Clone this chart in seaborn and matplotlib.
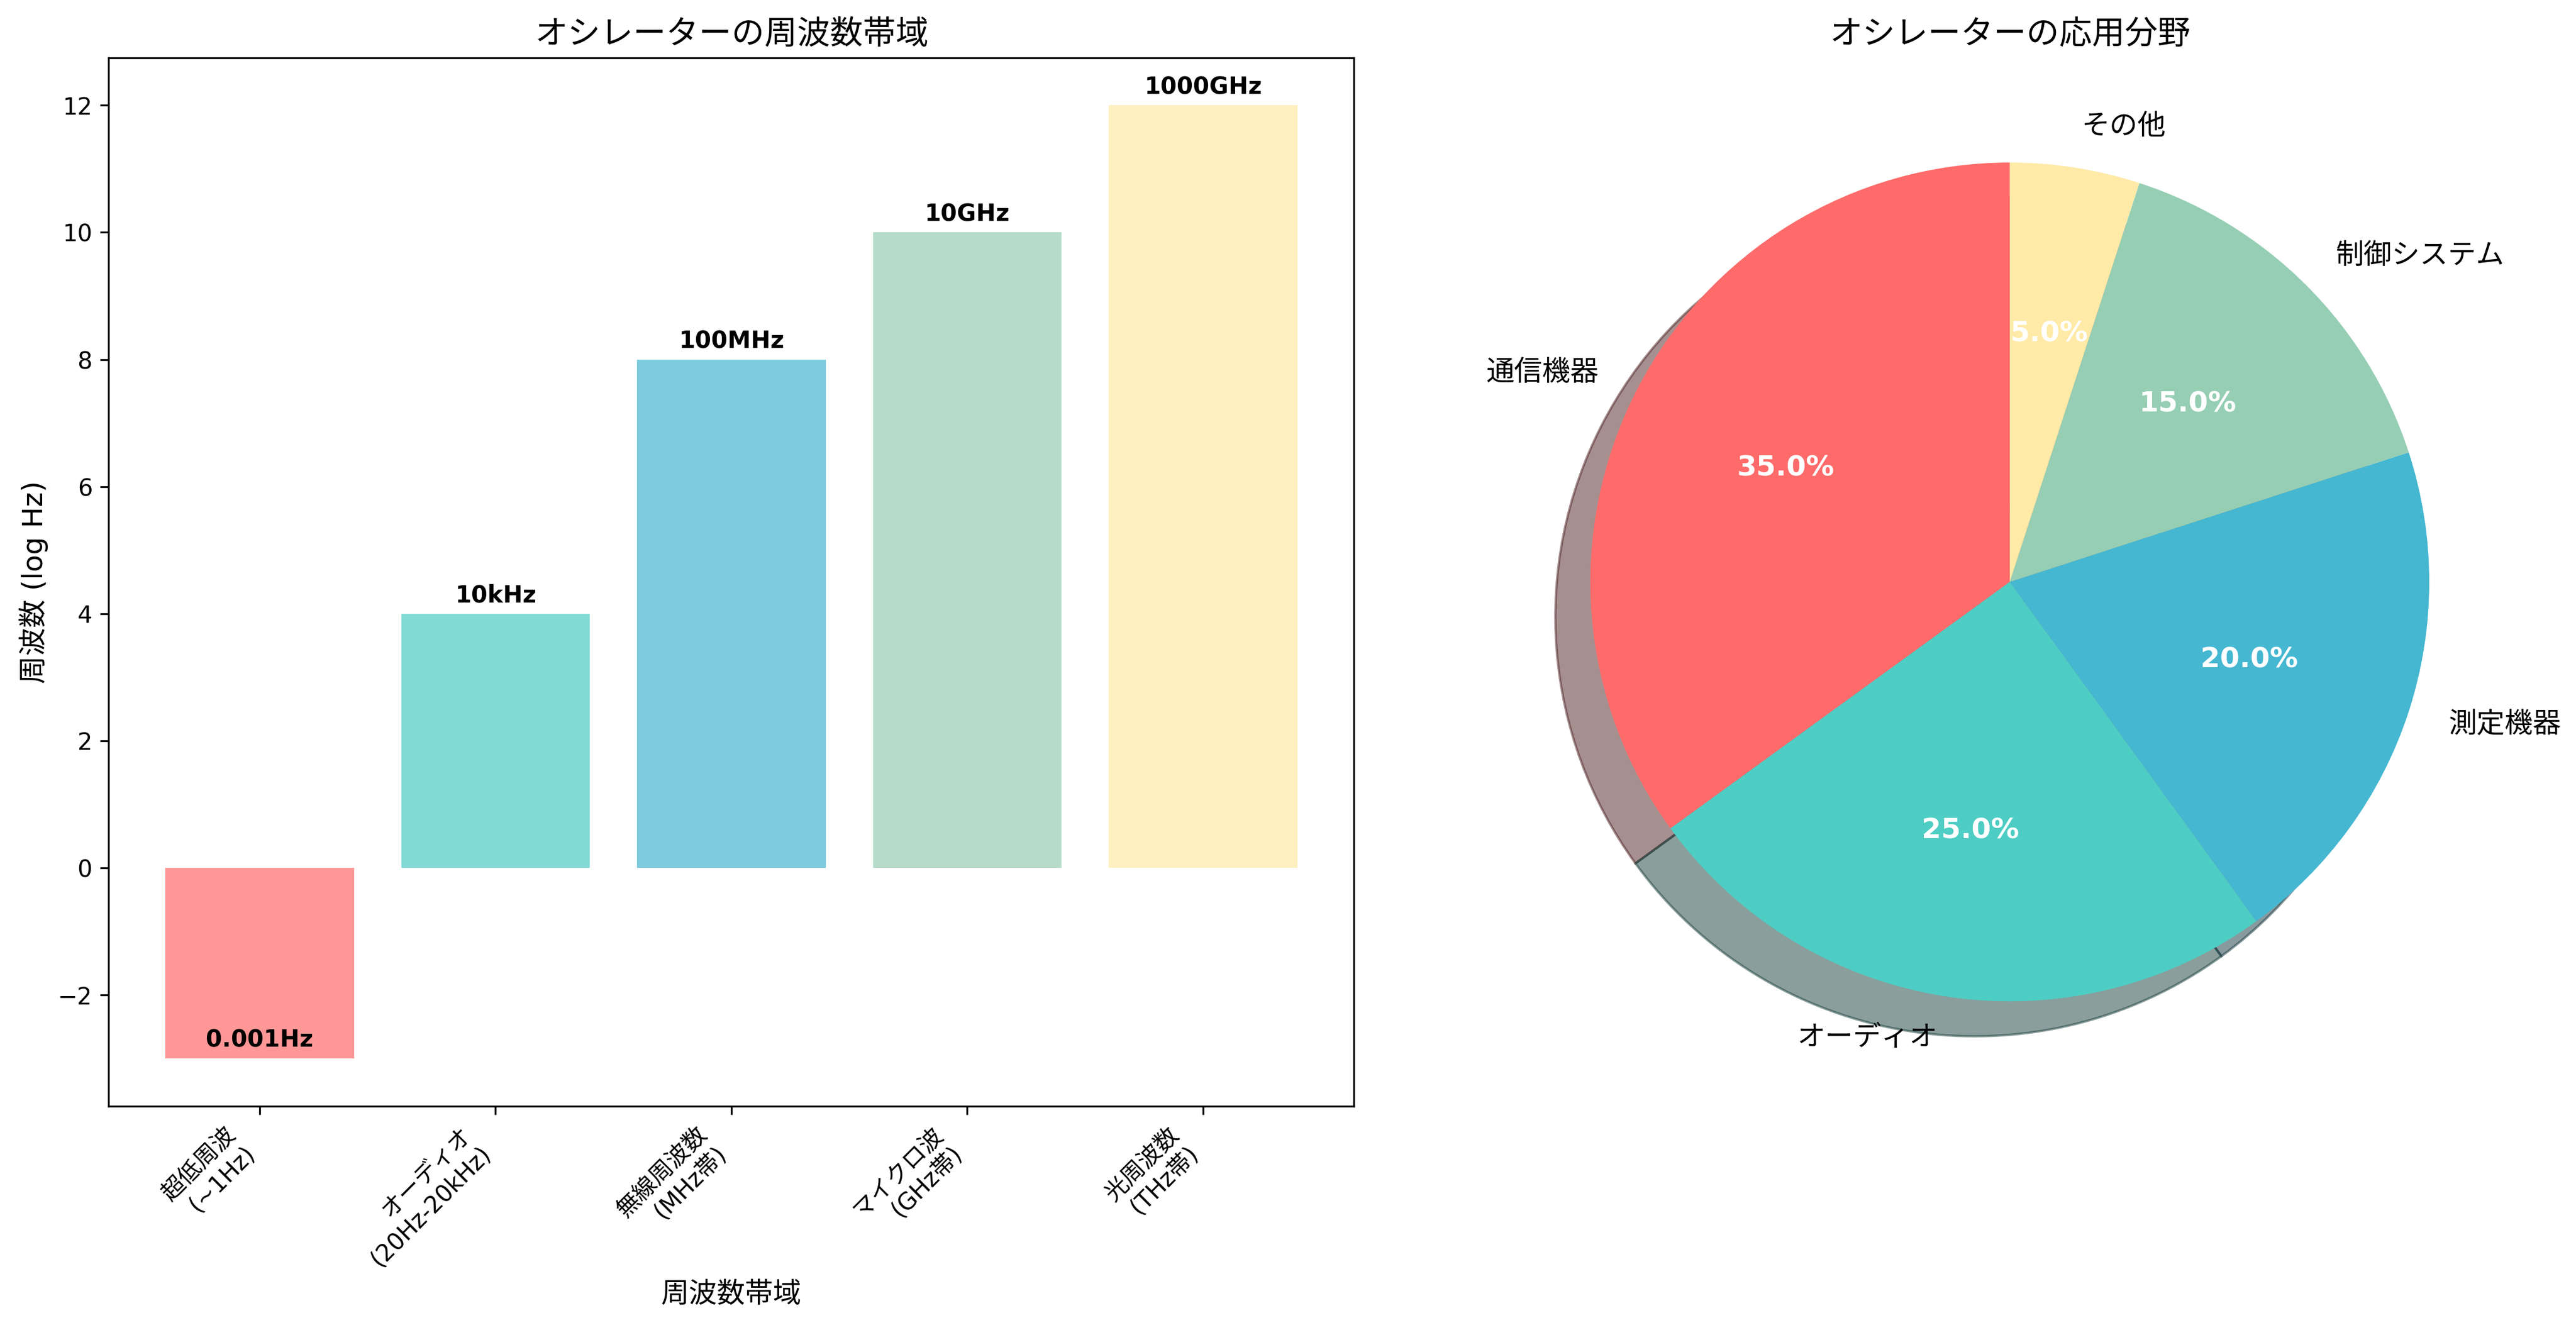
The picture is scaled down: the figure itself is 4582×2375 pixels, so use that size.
import numpy as np
import pandas as pd
import matplotlib
matplotlib.use('Agg')
import matplotlib.pyplot as plt
import seaborn as sns

plt.rcParams['font.family'] = ['DejaVu Sans', 'Noto Sans CJK JP']

# frequency bands
bands = ['超低周波\n(~1Hz)', 'オーディオ\n(20Hz-20kHz)', '無線周波数\n(MHz帯)',
         'マイクロ波\n(GHz帯)', '光周波数\n(THz帯)']
log_freq = [-3, 4, 8, 10, 12]
freq_labels = ['0.001Hz', '10kHz', '100MHz', '10GHz', '1000GHz']

# applications
apps = ['通信機器', 'オーディオ', '測定機器', '制御システム', 'その他']
shares = [35, 25, 20, 15, 5]

colors = ['#FF6B6B', '#4ECDC4', '#45B7D1', '#96CEB4', '#FFEAA7']

fig, (ax1, ax2) = plt.subplots(1, 2, figsize=(4582 / 300, 2375 / 300), dpi=300)

df = pd.DataFrame({'band': bands, 'val': log_freq})
sns.barplot(data=df, x='band', y='val', hue='band', palette=colors, alpha=0.7,
            width=0.8, legend=False, ax=ax1, saturation=1)
for i, (v, lab) in enumerate(zip(log_freq, freq_labels)):
    ax1.text(i, v + 0.1, lab, ha='center', va='bottom', fontweight='bold', fontsize=10)
ax1.set_title('オシレーターの周波数帯域', fontsize=14)
ax1.set_xlabel('周波数帯域', fontsize=12)
ax1.set_ylabel('周波数 (log Hz)', fontsize=12)
ax1.set_xticks(range(len(bands)))
ax1.set_xticklabels(bands, rotation=45, ha='right', fontsize=10)
ax1.set_ylim(-3.75, 12.75)
ax1.set_xlim(-0.64, 4.64)

wedges, texts, autotexts = ax2.pie(shares, labels=apps, colors=colors, autopct='%1.1f%%',
                                   startangle=90, shadow=True, textprops={'fontsize': 12})
for t in autotexts:
    t.set_color('white')
    t.set_fontweight('bold')
ax2.set_title('オシレーターの応用分野', fontsize=14)
ax2.set_aspect('equal', adjustable='box')

ax1.set_position([0.0422, 0.1714, 0.4834, 0.7854])
ax2.set_position([0.781 - 0.2425, 0.1714, 0.4834, 0.7854])
plt.savefig('out.png', dpi=300)
